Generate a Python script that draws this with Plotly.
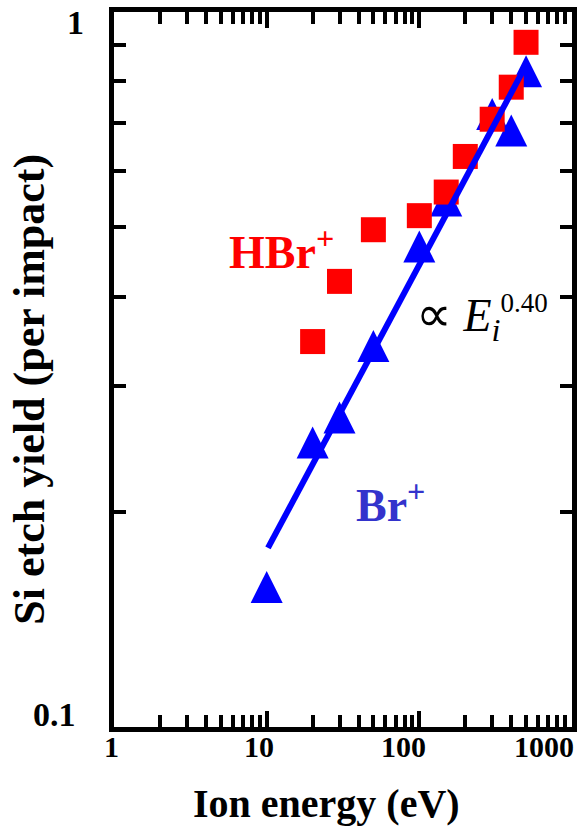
import plotly.graph_objects as go
import math

# ---------------- data ----------------
br_energy = [10, 20, 30, 50, 100, 150, 300, 400, 500]
br_yield = [0.157, 0.250, 0.271, 0.341, 0.470, 0.545, 0.720, 0.683, 0.826]

hbr_energy = [20, 30, 50, 100, 150, 200, 300, 400, 500]
hbr_yield = [0.346, 0.420, 0.496, 0.519, 0.560, 0.628, 0.708, 0.785, 0.907]

fit_energy = [10.2, 490]
fit_yield = [0.178, 0.836]

x_tick_values = [1, 10, 100, 1000]
x_tick_labels = ["1", "10", "100", "1000"]
y_tick_values = [1, 0.1]
y_tick_labels = ["1", "0.1"]

# ---------------- style ----------------
SERIF = "Liberation Serif, Times New Roman, serif"
RED = "#ff0000"
BLUE = "#0000ff"
x_label_shift = [-3, -8, -16, -28]
y_label_xshift = [-28, -36]
y_label_yshift = [-10, 13]

fig = go.Figure()

# upward triangle whose box centre sits on the data point
fig.add_trace(go.Scatter(
    x=br_energy, y=br_yield, mode="markers", name="Br+",
    marker=dict(symbol="arrow-down", angle=180, size=32, standoff=16, color=BLUE,
                line=dict(width=0)),
))
fig.add_trace(go.Scatter(
    x=hbr_energy, y=hbr_yield, mode="markers", name="HBr+",
    marker=dict(symbol="square", size=25, color=RED, line=dict(width=0)),
))
fig.add_trace(go.Scatter(
    x=fit_energy, y=fit_yield, mode="lines", name="fit",
    line=dict(color=BLUE, width=6),
))

axis_common = dict(
    type="log", showline=True, linewidth=5, linecolor="black", mirror="ticks",
    ticks="inside", ticklen=16, tickwidth=4, tickcolor="black",
    dtick=1, showticklabels=False, showgrid=False, zeroline=False,
    minor=dict(ticks="inside", ticklen=12, tickwidth=4, tickcolor="black",
               dtick="D1", showgrid=False),
)
fig.update_xaxes(range=[0, 3], **axis_common)
fig.update_yaxes(range=[-1, 0], **axis_common)

ann = []
for v, t, s in zip(x_tick_values, x_tick_labels, x_label_shift):
    ann.append(dict(x=math.log10(v), y=0, xref="x", yref="paper", text=f"<b>{t}</b>",
                    showarrow=False, xanchor="center", yanchor="middle",
                    xshift=s, yshift=-19, font=dict(family=SERIF, size=30, color="black")))
for v, t, xs, ys in zip(y_tick_values, y_tick_labels, y_label_xshift, y_label_yshift):
    ann.append(dict(x=0, y=math.log10(v), xref="paper", yref="y", text=f"<b>{t}</b>",
                    showarrow=False, xanchor="right", yanchor="middle",
                    xshift=xs, yshift=ys, font=dict(family=SERIF, size=34, color="black")))

ann.append(dict(x=0.5, y=0, xref="paper", yref="paper", text="<b>Ion energy (eV)</b>",
                showarrow=False, xanchor="center", yanchor="middle", xshift=-17, yshift=-76,
                font=dict(family=SERIF, size=40, color="black")))
ann.append(dict(x=0, y=0.4717, xref="paper", yref="paper", text="<b>Si etch yield (per impact)</b>",
                showarrow=False, xanchor="center", yanchor="middle", xshift=-84, textangle=-90,
                font=dict(family=SERIF, size=44, color="black")))

ann.append(dict(x=1.100, y=-0.3317, xref="x", yref="y", text="<b>HBr<sup>+</sup></b>",
                showarrow=False, xanchor="center", yanchor="middle",
                font=dict(family=SERIF, size=46, color=RED)))
ann.append(dict(x=1.812, y=-0.6856, xref="x", yref="y", text="<b>Br<sup>+</sup></b>",
                showarrow=False, xanchor="center", yanchor="middle",
                font=dict(family=SERIF, size=46, color="#3333cc")))
ann.append(dict(x=1.962, y=-0.4269, xref="x", yref="y",
                text="<span style='font-size:50px'>\u221d</span> <i>E</i><sub><i>i</i></sub>"
                     "<sup><span style='font-size:27px'>0.40</span></sup>",
                showarrow=False, xanchor="left", yanchor="middle",
                font=dict(family=SERIF, size=46, color="black")))

fig.update_layout(
    width=582, height=827,
    margin=dict(l=114, r=4.5, t=12.3, b=99.7, pad=0),
    paper_bgcolor="white", plot_bgcolor="white",
    showlegend=False, annotations=ann,
)

fig.write_html("out.html")
